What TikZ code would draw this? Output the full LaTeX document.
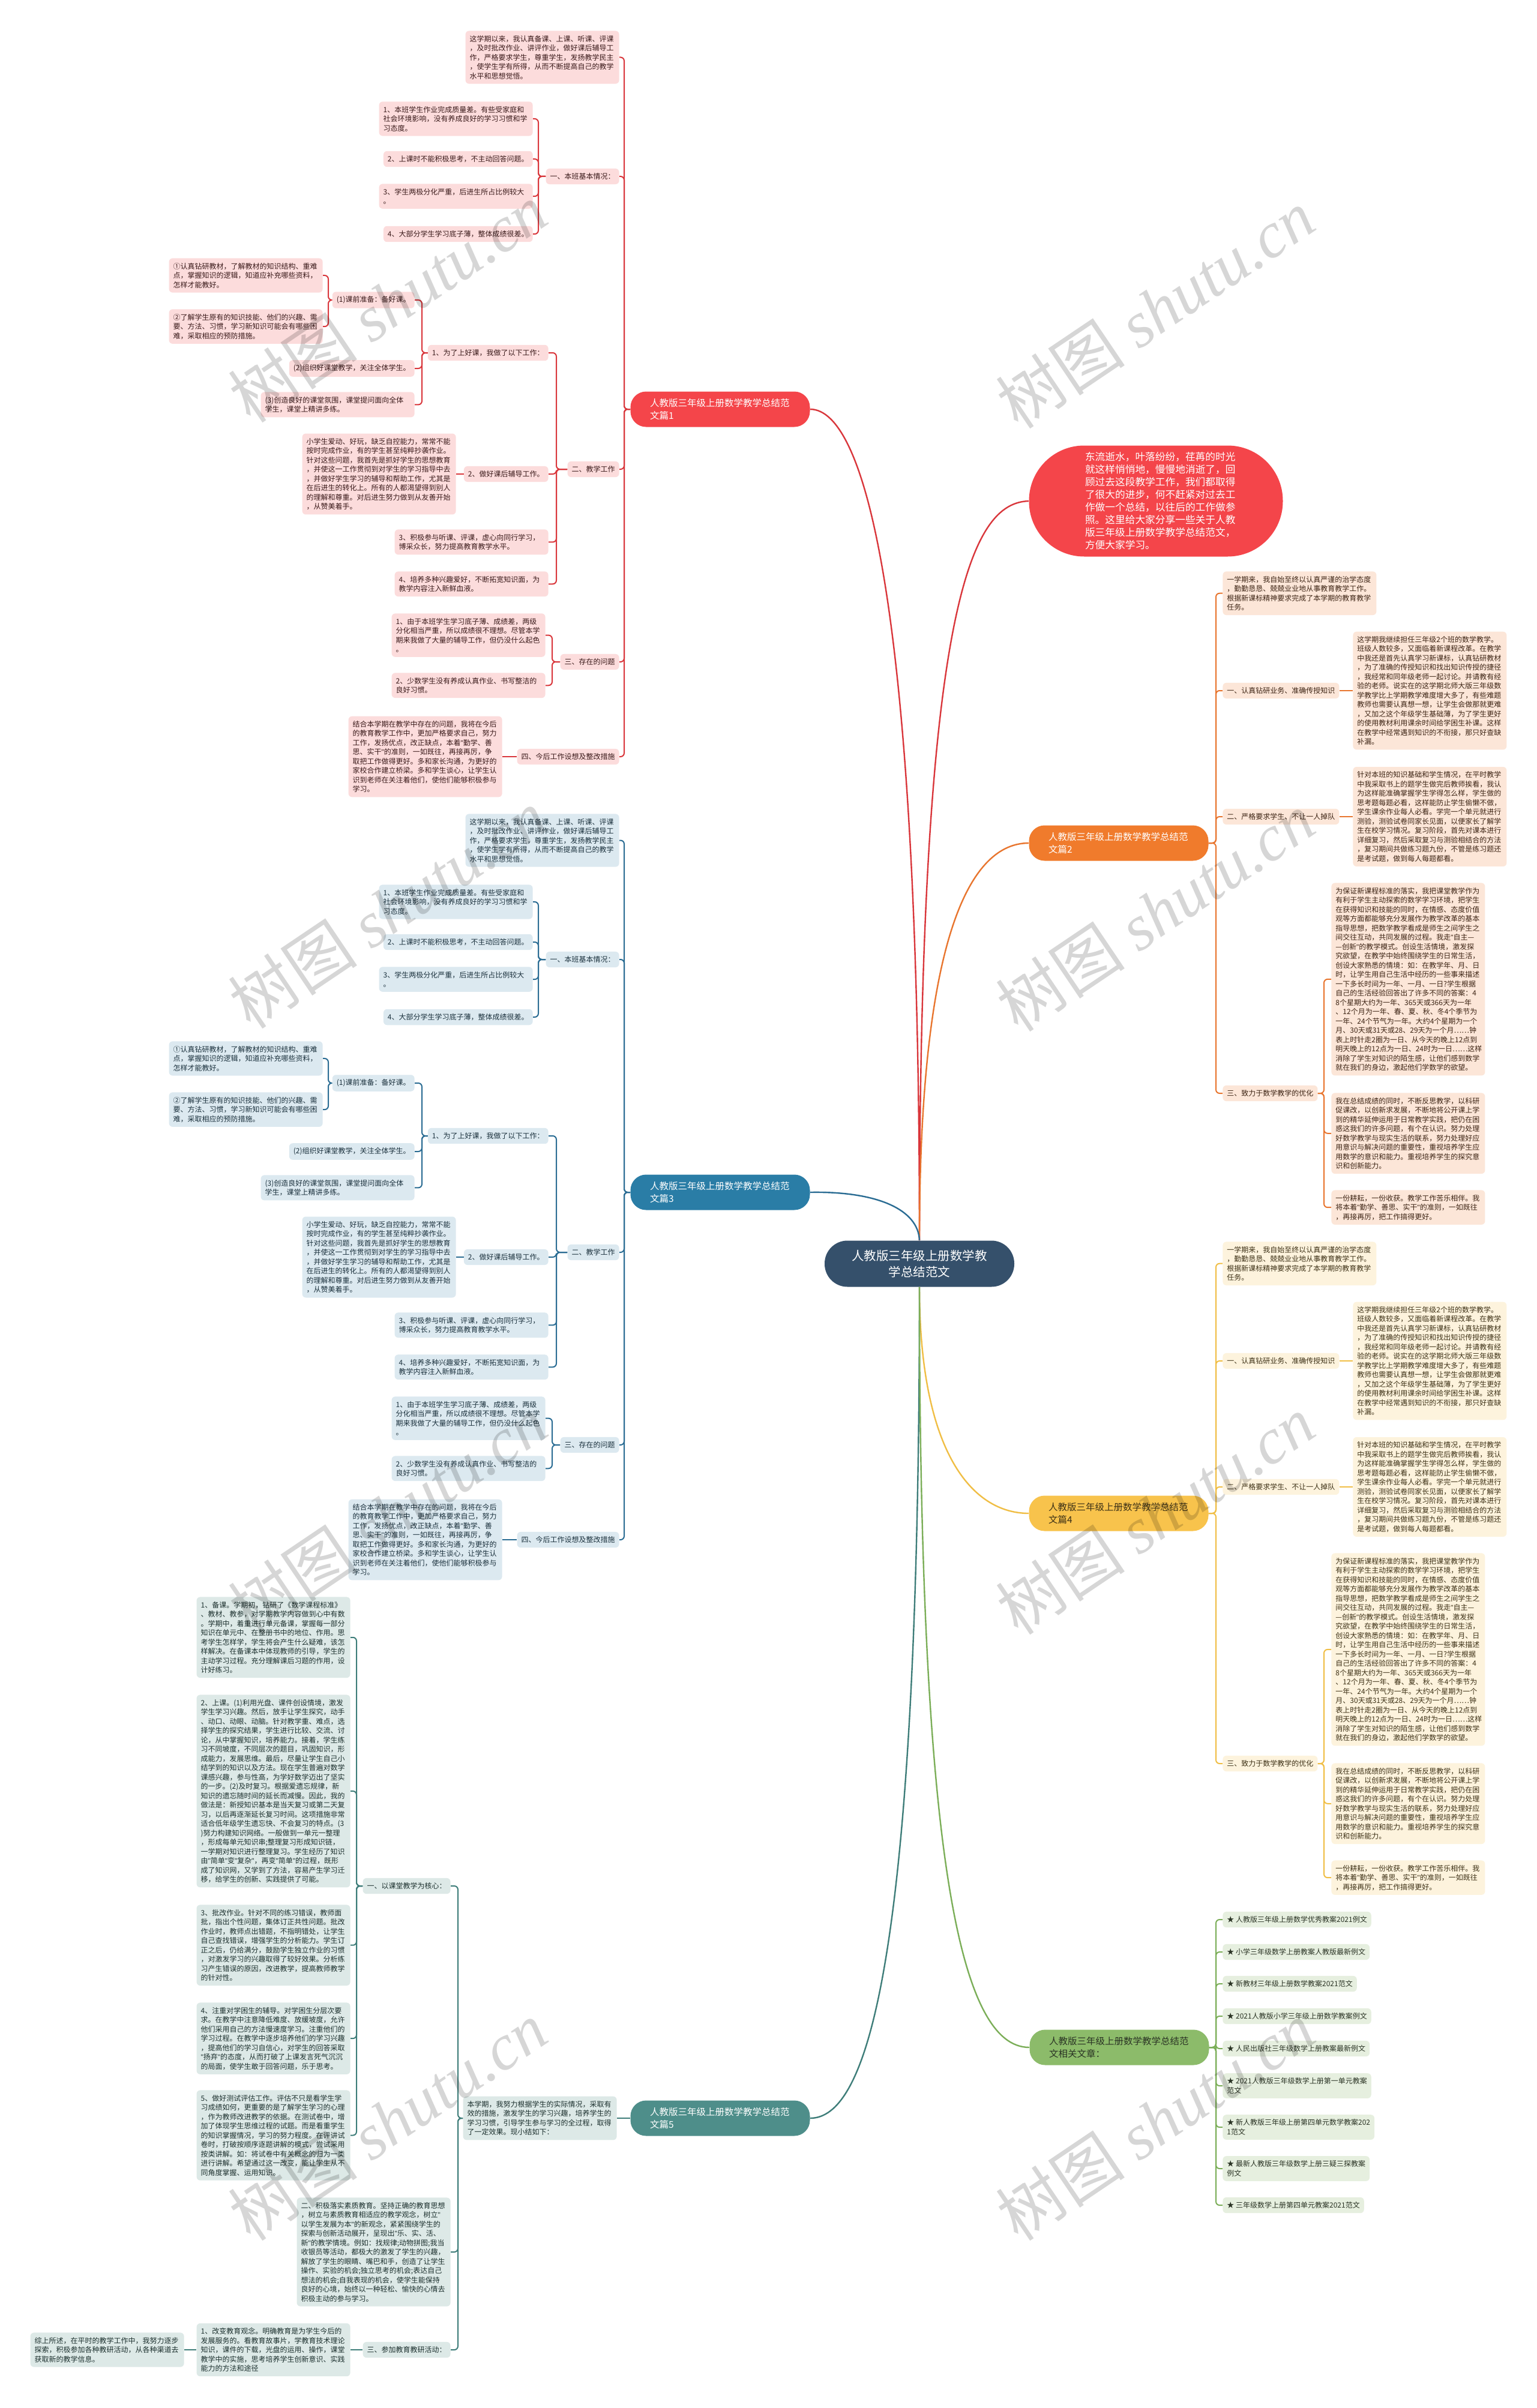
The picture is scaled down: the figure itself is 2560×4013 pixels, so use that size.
\documentclass[tikz,border=0pt]{standalone}
\usepackage{fontspec}
\setmainfont{Noto Sans CJK SC}
\newfontfamily\wmlat{Liberation Serif}
\newfontfamily\latf{Liberation Sans}
\newcommand\qq{{\latf"}}
\definecolor{cRedN}{HTML}{F4454A}
\definecolor{cRedL}{HTML}{D9363B}
\definecolor{cRedB}{HTML}{FCDCDC}
\definecolor{cRedT}{HTML}{3A1A1A}
\definecolor{cOrN}{HTML}{F07B2C}
\definecolor{cOrL}{HTML}{E8752E}
\definecolor{cOrB}{HTML}{FCE6D8}
\definecolor{cOrT}{HTML}{3D2414}
\definecolor{cBlN}{HTML}{2A7DA6}
\definecolor{cBlL}{HTML}{2A6C93}
\definecolor{cBlB}{HTML}{DCE9F0}
\definecolor{cBlT}{HTML}{1B313D}
\definecolor{cYeN}{HTML}{F8C34C}
\definecolor{cYeL}{HTML}{F0BE45}
\definecolor{cYeB}{HTML}{FDF3DD}
\definecolor{cYeT}{HTML}{3D3116}
\definecolor{cTeN}{HTML}{4E8E8A}
\definecolor{cTeL}{HTML}{3E7D79}
\definecolor{cTeB}{HTML}{DDE9E7}
\definecolor{cTeT}{HTML}{1C302E}
\definecolor{cGrN}{HTML}{8CBB6A}
\definecolor{cGrL}{HTML}{7BAE58}
\definecolor{cGrB}{HTML}{E6EFDF}
\definecolor{cGrT}{HTML}{2A3324}
\definecolor{cCen}{HTML}{35506B}
\newcommand\mfB{\fontsize{6}{7.75}\selectfont}
\newcommand\mfM{\fontsize{7.75}{10.35}\selectfont}
\tikzset{
  basebox/.style={rounded corners=3pt, inner xsep=3.5pt, inner ysep=3.75pt, font=\mfB, align=left},
  branch/.style n args={5}{
    bx/.style={basebox, text width=121pt, fill=#1, text=#2},
    lb/.style={basebox, fill=#1, text=#2},
    ln/.style={draw=#3, line width=1pt, rounded corners=3pt},
    mn/.style={fill=#4, text=#5, rounded corners=13pt, minimum width=149.5pt,
      minimum height=29.5pt, text width=117pt, inner xsep=16pt, align=left, font=\mfM}},
  mainln/.style={line width=1.2pt},
  wm/.style={rotate=34, text=black, opacity=0.16, font=\fontsize{54}{54}\selectfont, inner sep=0pt},
}
\newcommand\LB[3]{\draw[ln] (#1.west) -- (#1.west -| #3) |- (#2.east);}
\newcommand\RB[3]{\draw[ln] (#1.east) -- (#1.east -| #3) |- (#2.west);}

\newcommand\LeftTree[1]{%
\node[mn] (m) at (1200,682) {人教版三年级上册数学教学总结范\\文篇#1};
\coordinate (k0) at (1040,0);
\coordinate (k1) at (897,0);
\coordinate (k2) at (927,0);
\coordinate (k2a) at (703,0);
\coordinate (k2a1) at (547,0);
\coordinate (k3) at (920,0);
\node[bx,anchor=north east] (i) at (1032,51) {这学期以来，我认真备课、上课、听课、评课\\，及时批改作业、讲评作业，做好课后辅导工\\作，严格要求学生，尊重学生，发扬教学民主\\，使学生学有所得，从而不断提高自己的教学\\水平和思想觉悟。};
\node[lb,anchor=east] (s1) at (1032,294) {一、本班基本情况：};
\node[bx,anchor=north east] (s1a) at (888,169) {1、本班学生作业完成质量差。有些受家庭和\\社会环境影响，没有养成良好的学习习惯和学\\习态度。};
\node[lb,anchor=east] (s1b) at (888,265) {2、上课时不能积极思考，不主动回答问题。};
\node[bx,anchor=north east] (s1c) at (888,306) {3、学生两极分化严重，后进生所占比例较大\\。};
\node[lb,anchor=east] (s1d) at (888,390) {4、大部分学生学习底子薄，整体成绩很差。};
\node[lb,anchor=east] (s2) at (1032,782) {二、教学工作};
\node[lb,anchor=east] (s2a) at (914,588) {1、为了上好课，我做了以下工作：};
\node[lb,anchor=east] (s2a1) at (691,500) {(1)课前准备：备好课。};
\node[bx,anchor=north east] (s2a1x) at (538,430) {①认真钻研教材，了解教材的知识结构、重难\\点，掌握知识的逻辑，知道应补充哪些资料，\\怎样才能教好。};
\node[bx,anchor=north east] (s2a1y) at (538,515) {②了解学生原有的知识技能、他们的兴趣、需\\要、方法、习惯，学习新知识可能会有哪些困\\难，采取相应的预防措施。};
\node[lb,anchor=east] (s2a2) at (691,614) {(2)组织好课堂教学，关注全体学生。};
\node[bx,anchor=north east] (s2a3) at (691,653) {(3)创造良好的课堂氛围，课堂提问面向全体\\学生，课堂上精讲多练。};
\node[lb,anchor=east] (s2b) at (914,790) {2、做好课后辅导工作。};
\node[bx,anchor=east] (s2b1) at (760,790) {小学生爱动、好玩，缺乏自控能力，常常不能\\按时完成作业，有的学生甚至纯粹抄袭作业。\\针对这些问题，我首先是抓好学生的思想教育\\，并使这一工作贯彻到对学生的学习指导中去\\，并做好学生学习的辅导和帮助工作，尤其是\\在后进生的转化上。所有的人都渴望得到别人\\的理解和尊重。对后进生努力做到从友善开始\\，从赞美着手。};
\node[bx,anchor=north east] (s2c) at (914,882) {3、积极参与听课、评课，虚心向同行学习，\\博采众长，努力提高教育教学水平。};
\node[bx,anchor=north east] (s2d) at (914,952) {4、培养多种兴趣爱好，不断拓宽知识面，为\\教学内容注入新鲜血液。};
\node[lb,anchor=east] (s3) at (1032,1103) {三、存在的问题};
\node[bx,anchor=north east] (s3a) at (909,1022) {1、由于本班学生学习底子薄、成绩差，两级\\分化相当严重，所以成绩很不理想。尽管本学\\期来我做了大量的辅导工作，但仍没什么起色\\。};
\node[bx,anchor=north east] (s3b) at (909,1121) {2、少数学生没有养成认真作业、书写整洁的\\良好习惯。};
\node[lb,anchor=east] (s4) at (1032,1261) {四、今后工作设想及整改措施};
\node[bx,anchor=east] (s4a) at (837,1261) {结合本学期在教学中存在的问题，我将在今后\\的教育教学工作中，更加严格要求自己，努力\\工作，发扬优点，改正缺点，本着\qq{}勤学、善\\思、实干\qq{}的准则，一如既往，再接再厉，争\\取把工作做得更好。多和家长沟通，为更好的\\家校合作建立桥梁。多和学生谈心，让学生认\\识到老师在关注着他们，使他们能够积极参与\\学习。};
\LB{m}{i}{k0}\LB{m}{s1}{k0}\LB{m}{s2}{k0}\LB{m}{s3}{k0}\LB{m}{s4}{k0}
\LB{s1}{s1a}{k1}\LB{s1}{s1b}{k1}\LB{s1}{s1c}{k1}\LB{s1}{s1d}{k1}
\LB{s2}{s2a}{k2}\LB{s2}{s2b}{k2}\LB{s2}{s2c}{k2}\LB{s2}{s2d}{k2}
\LB{s2a}{s2a1}{k2a}\LB{s2a}{s2a2}{k2a}\LB{s2a}{s2a3}{k2a}
\LB{s2a1}{s2a1x}{k2a1}\LB{s2a1}{s2a1y}{k2a1}
\draw[ln] (s2b.west) -- (s2b1.east);
\LB{s3}{s3a}{k3}\LB{s3}{s3b}{k3}
\draw[ln] (s4.west) -- (s4a.east);
}

\newcommand\RightTree[1]{%
\node[mn] (m) at (1864,1405) {人教版三年级上册数学教学总结范\\文篇#1};
\coordinate (r0) at (2026,0);
\coordinate (r3) at (2206,0);
\node[bx,anchor=north west] (i) at (2037,952) {一学期来，我自始至终以认真严谨的治学态度\\，勤勤恳恳、兢兢业业地从事教育教学工作。\\根据新课标精神要求完成了本学期的教育教学\\任务。};
\node[lb,anchor=west] (s1) at (2037,1151) {一、认真钻研业务、准确传授知识};
\node[bx,anchor=west] (s1a) at (2254,1151) {这学期我继续担任三年级2个班的数学教学。\\班级人数较多，又面临着新课程改革。在教学\\中我还是首先认真学习新课标，认真钻研教材\\，为了准确的传授知识和找出知识传授的捷径\\，我经常和同年级老师一起讨论。并请教有经\\验的老师。说实在的这学期北师大版三年级数\\学教学比上学期教学难度增大多了，有些难题\\教师也需要认真想一想，让学生会做那就更难\\，又加之这个年级学生基础薄，为了学生更好\\的使用教材利用课余时间给学困生补课。这样\\在教学中经常遇到知识的不衔接，那只好查缺\\补漏。};
\node[lb,anchor=west] (s2) at (2037,1361) {二、严格要求学生、不让一人掉队};
\node[bx,anchor=west] (s2a) at (2254,1361) {针对本班的知识基础和学生情况，在平时教学\\中我采取书上的题学生做完后教师挨看，我认\\为这样能准确掌握学生学得怎么样，学生做的\\思考题每题必看，这样能防止学生偷懒不做，\\学生课余作业每人必看。学完一个单元就进行\\测验，测验试卷同家长见面，以便家长了解学\\生在校学习情况。复习阶段，首先对课本进行\\详细复习，然后采取复习与测验相结合的方法\\，复习期间共做练习题九份，不管是练习题还\\是考试题，做到每人每题都看。};
\node[lb,anchor=west] (s3) at (2037,1822) {三、致力于数学教学的优化};
\node[bx,anchor=north west] (c1) at (2218,1471) {为保证新课程标准的落实，我把课堂教学作为\\有利于学生主动探索的数学学习环境，把学生\\在获得知识和技能的同时，在情感、态度价值\\观等方面都能够充分发展作为教学改革的基本\\指导思想，把数学教学看成是师生之间学生之\\间交往互动，共同发展的过程。我走\qq{}自主—\\—创新\qq{}的教学模式。创设生活情境，激发探\\究欲望，在教学中始终围绕学生的日常生活，\\创设大家熟悉的情境：如：在教学年、月、日\\时，让学生用自己生活中经历的一些事来描述\\一下多长时间为一年、一月、一日?学生根据\\自己的生活经验回答出了许多不同的答案：4\\8个星期大约为一年、365天或366天为一年\\、12个月为一年、春、夏、秋、冬4个季节为\\一年、24个节气为一年。大约4个星期为一个\\月、30天或31天或28、29天为一个月……钟\\表上时针走2圈为一日、从今天的晚上12点到\\明天晚上的12点为一日、24时为一日……这样\\消除了学生对知识的陌生感，让他们感到数学\\就在我们的身边，激起他们学数学的欲望。};
\node[bx,anchor=north west] (c2) at (2218,1821) {我在总结成绩的同时，不断反思教学，以科研\\促课改，以创新求发展，不断地将公开课上学\\到的精华延伸运用于日常教学实践，把仍在困\\惑这我们的许多问题，有个在认识。努力处理\\好数学教学与现实生活的联系，努力处理好应\\用意识与解决问题的重要性，重视培养学生应\\用数学的意识和能力。重视培养学生的探究意\\识和创新能力。};
\node[bx,anchor=north west] (c3) at (2218,1983) {一份耕耘，一份收获。教学工作苦乐相伴。我\\将本着\qq{}勤学、善思、实干\qq{}的准则，一如既往\\，再接再厉，把工作搞得更好。};
\RB{m}{i}{r0}\RB{m}{s1}{r0}\RB{m}{s2}{r0}\RB{m}{s3}{r0}
\draw[ln] (s1.east) -- (s1a.west);
\draw[ln] (s2.east) -- (s2a.west);
\RB{s3}{c1}{r3}\RB{s3}{c2}{r3}\RB{s3}{c3}{r3}
}

\begin{document}
\begin{tikzpicture}[x=0.5pt,y=-0.5pt]
\useasboundingbox (0,0) rectangle (2560,4013);
\fill[white] (0,0) rectangle (2560,4013);

% centre and intro bubble
\node[fill=cCen, text=white, rounded corners=19pt, minimum width=158pt, minimum height=38.5pt,
  align=center, font=\fontsize{10.25}{13.4}\selectfont] (c) at (1532,2106) {人教版三年级上册数学教\\学总结范文};
\node[fill=cRedN, text=white, rounded corners=46pt, minimum width=211.5pt, minimum height=92.5pt,
  text width=118pt, align=left, font=\fontsize{8.35}{10.5}\selectfont] (bub) at (1926,835)
  {东流逝水，叶落纷纷，荏苒的时光\\就这样悄悄地，慢慢地消逝了，回\\顾过去这段教学工作，我们都取得\\了很大的进步，何不赶紧对过去工\\作做一个总结，以往后的工作做参\\照。这里给大家分享一些关于人教\\版三年级上册数学教学总结范文，\\方便大家学习。};

\begin{scope}[name prefix=b1-, branch={cRedB}{cRedT}{cRedL}{cRedN}{white}]
\LeftTree{1}
\end{scope}
\begin{scope}[shift={(0,1305)}, name prefix=b3-, branch={cBlB}{cBlT}{cBlL}{cBlN}{white}]
\LeftTree{3}
\end{scope}
\begin{scope}[name prefix=b2-, branch={cOrB}{cOrT}{cOrL}{cOrN}{white}]
\RightTree{2}
\end{scope}
\begin{scope}[shift={(0,1117)}, name prefix=b4-, branch={cYeB}{cYeT}{cYeL}{cYeN}{cYeT}]
\RightTree{4}
\end{scope}

\begin{scope}[name prefix=b5-, branch={cTeB}{cTeT}{cTeL}{cTeN}{white}]
\node[mn] (m) at (1200,3530) {人教版三年级上册数学教学总结范\\文篇5};
\coordinate (q0) at (763,0);
\coordinate (q1) at (594,0);
\node[bx,anchor=east] (i) at (1028,3530) {本学期，我努力根据学生的实际情况，采取有\\效的措施，激发学生的学习兴趣，培养学生的\\学习习惯，引导学生参与学习的全过程，取得\\了一定效果。现小结如下：};
\node[lb,anchor=east] (s1) at (751,3143) {一、以课堂教学为核心：};
\node[bx,anchor=north east] (a1) at (584,2661) {1、备课。学期初，钻研了《数学课程标准》\\、教材、教参，对学期教学内容做到心中有数\\。学期中，着重进行单元备课，掌握每一部分\\知识在单元中、在整册书中的地位、作用。思\\考学生怎样学，学生将会产生什么疑难，该怎\\样解决。在备课本中体现教师的引导，学生的\\主动学习过程。充分理解课后习题的作用，设\\计好练习。};
\node[bx,anchor=north east] (a2) at (584,2824) {2、上课。(1)利用光盘、课件创设情境，激发\\学生学习兴趣。然后，放手让学生探究，动手\\、动口、动眼、动脑。针对教学重、难点，选\\择学生的探究结果，学生进行比较、交流、讨\\论，从中掌握知识，培养能力。接着，学生练\\习不同坡度，不同层次的题目，巩固知识，形\\成能力，发展思维。最后，尽量让学生自己小\\结学到的知识以及方法。现在学生普遍对数学\\课感兴趣，参与性高，为学好数学迈出了坚实\\的一步。(2)及时复习。根据爱遗忘规律，新\\知识的遗忘随时间的延长而减慢。因此，我的\\做法是：新授知识基本是当天复习或第二天复\\习，以后再逐渐延长复习时间。这项措施非常\\适合低年级学生遗忘快、不会复习的特点。(3\\)努力构建知识网络。一般做到一单元一整理\\，形成每单元知识串;整理复习形成知识链，\\一学期对知识进行整理复习。学生经历了知识\\由\qq{}简单\qq{}变\qq{}复杂\qq{}，再变\qq{}简单\qq{}的过程，既形\\成了知识网，又学到了方法，容易产生学习迁\\移，给学生的创新、实践提供了可能。};
\node[bx,anchor=north east] (a3) at (584,3174) {3、批改作业。针对不同的练习错误，教师面\\批，指出个性问题，集体订正共性问题。批改\\作业时，教师点出错题，不指明错处，让学生\\自己查找错误，增强学生的分析能力。学生订\\正之后，仍给满分，鼓励学生独立作业的习惯\\，对激发学习的兴趣取得了较好效果。分析练\\习产生错误的原因，改进教学，提高教师教学\\的针对性。};
\node[bx,anchor=north east] (a4) at (584,3337) {4、注重对学困生的辅导。对学困生分层次要\\求。在教学中注意降低难度、放缓坡度，允许\\他们采用自己的方法慢速度学习。注重他们的\\学习过程。在教学中逐步培养他们的学习兴趣\\，提高他们的学习自信心，对学生的回答采取\\\qq{}扬弃\qq{}的态度，从而打破了上课发言死气沉沉\\的局面，使学生敢于回答问题，乐于思考。};
\node[bx,anchor=north east] (a5) at (584,3483) {5、做好测试评估工作。评估不只是看学生学\\习成绩如何，更重要的是了解学生学习的心理\\，作为教师改进教学的依据。在测试卷中，增\\加了体现学生思维过程的试题。而是看重学生\\的知识掌握情况，学习的努力程度。在评讲试\\卷时，打破按顺序逐题讲解的模式，尝试采用\\按类讲解。如：将试卷中有关概念的归为一类\\进行讲解。希望通过这一改变，能让学生从不\\同角度掌握、运用知识。};
\node[bx,anchor=north east] (s2) at (751,3662) {二、积极落实素质教育。坚持正确的教育思想\\，树立与素质教育相适应的教学观念，树立\qq{}\\以学生发展为本\qq{}的新观念，紧紧围绕学生的\\探索与创新活动展开，呈现出\qq{}乐、实、活、\\新\qq{}的教学情境。例如：找规律;动物拼图;我当\\收银员等活动，都极大的激发了学生的兴趣，\\解放了学生的眼睛、嘴巴和手，创造了让学生\\操作、实验的机会;独立思考的机会;表达自己\\想法的机会;自我表现的机会，使学生能保持\\良好的心境，始终以一种轻松、愉快的心情去\\积极主动的参与学习。};
\node[lb,anchor=east] (s3) at (751,3916) {三、参加教育教研活动：};
\node[bx,anchor=east] (s3a) at (584,3916) {1、改变教育观念。明确教育是为学生今后的\\发展服务的。看教育故事片，学教育技术理论\\知识，课件的下载，光盘的运用、操作，课堂\\教学中的实施，思考培养学生创新意识、实践\\能力的方法和途径};
\node[bx,anchor=east] (s3b) at (307,3916) {综上所述，在平时的教学工作中，我努力逐步\\探索，积极参加各种教研活动，从各种渠道去\\获取新的教学信息。};
\draw[ln] (m.west) -- (i.east);
\LB{i}{s1}{q0}\LB{i}{s2}{q0}\LB{i}{s3}{q0}
\LB{s1}{a1}{q1}\LB{s1}{a2}{q1}\LB{s1}{a3}{q1}\LB{s1}{a4}{q1}\LB{s1}{a5}{q1}
\draw[ln] (s3.west) -- (s3a.east);
\draw[ln] (s3a.west) -- (s3b.east);
\end{scope}

\begin{scope}[name prefix=b6-, branch={cGrB}{cGrT}{cGrL}{cGrN}{cGrT}]
\node[mn] (m) at (1865,3412) {人教版三年级上册数学教学总结范\\文相关文章：};
\coordinate (g0) at (2026,0);
\node[lb,anchor=west] (L1) at (2037,3199) {★~人教版三年级上册数学优秀教案2021例文};
\node[lb,anchor=west] (L2) at (2037,3253) {★~小学三年级数学上册教案人教版最新例文};
\node[lb,anchor=west] (L3) at (2037,3306) {★~新教材三年级上册数学教案2021范文};
\node[lb,anchor=west] (L4) at (2037,3360) {★~2021人教版小学三年级上册数学教案例文};
\node[lb,anchor=west] (L5) at (2037,3414) {★~人民出版社三年级数学上册教案最新例文};
\node[lb,anchor=west] (L6) at (2037,3476) {★~2021人教版三年级数学上册第一单元教案\\范文};
\node[lb,anchor=west] (L7) at (2037,3545) {★~新人教版三年级上册第四单元数学教案202\\1范文};
\node[lb,anchor=west] (L8) at (2037,3614) {★~最新人教版三年级数学上册三疑三探教案\\例文};
\node[lb,anchor=west] (L9) at (2037,3675) {★~三年级数学上册第四单元教案2021范文};
\foreach \k in {1,...,9} {\RB{m}{L\k}{g0}}
\end{scope}

% connectors from the centre
\draw[mainln, draw=cRedL] (c.north) .. controls (1532,1000) and (1440,682) .. (b1-m.east);
\draw[mainln, draw=cRedL] (c.north) .. controls (1532,1000) and (1620,838) .. (bub.west);
\draw[mainln, draw=cOrL] (c.north) .. controls (1532,1550) and (1620,1405) .. (b2-m.west);
\draw[mainln, draw=cBlL] (c.north) .. controls (1530,2015) and (1460,1985) .. (b3-m.east);
\draw[mainln, draw=cYeL] (c.south) .. controls (1532,2420) and (1620,2522) .. (b4-m.west);
\draw[mainln, draw=cTeL] (c.south) .. controls (1532,3300) and (1440,3530) .. (b5-m.east);
\draw[mainln, draw=cGrL] (c.south) .. controls (1532,3100) and (1600,3412) .. (b6-m.west);

% watermarks
\foreach \wx/\wy [count=\n] in {646/505,1925/515,646/1515,1925/1520,646/2525,1925/2525,646/3535,1925/3535}
  {\node[wm] (wm\n) at (\wx,\wy) {树图 {\wmlat\itshape shutu.cn}};}
\end{tikzpicture}
\end{document}
